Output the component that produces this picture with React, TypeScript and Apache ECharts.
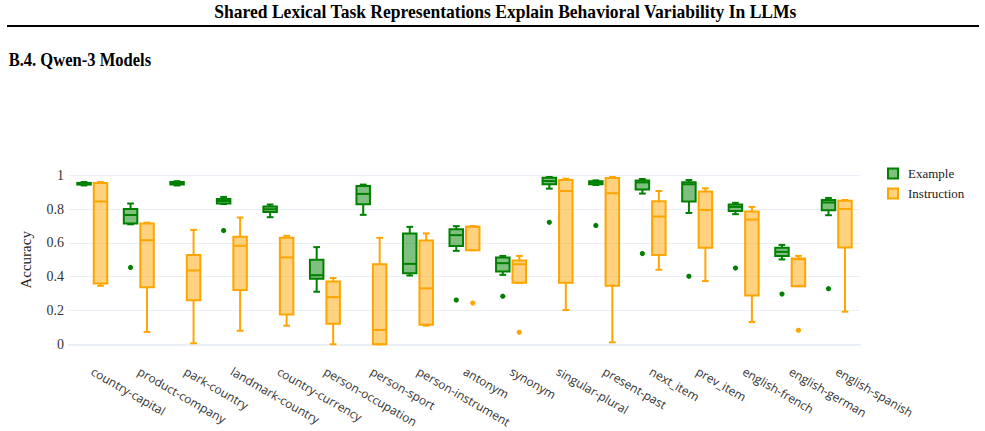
import React, { useEffect, useRef } from "react";
import * as echarts from "echarts";

const categories = [
  "country-capital",
  "product-company",
  "park-country",
  "landmark-country",
  "country-currency",
  "person-occupation",
  "person-sport",
  "person-instrument",
  "antonym",
  "synonym",
  "singular-plural",
  "present-past",
  "next_item",
  "prev_item",
  "english-french",
  "english-german",
  "english-spanish",
];

// [min, q1, median, q3, max]
const exampleStats = [
  [0.94, 0.945, 0.95, 0.955, 0.96],
  [0.71, 0.715, 0.765, 0.8, 0.833],
  [0.94, 0.945, 0.952, 0.96, 0.965],
  [0.83, 0.833, 0.848, 0.86, 0.872],
  [0.752, 0.783, 0.799, 0.815, 0.827],
  [0.311, 0.388, 0.409, 0.5, 0.575],
  [0.766, 0.829, 0.89, 0.937, 0.945],
  [0.407, 0.421, 0.476, 0.656, 0.695],
  [0.553, 0.581, 0.646, 0.681, 0.699],
  [0.411, 0.431, 0.48, 0.514, 0.523],
  [0.921, 0.947, 0.966, 0.985, 0.99],
  [0.943, 0.947, 0.957, 0.965, 0.97],
  [0.892, 0.916, 0.958, 0.969, 0.978],
  [0.777, 0.845, 0.947, 0.959, 0.972],
  [0.77, 0.789, 0.813, 0.827, 0.837],
  [0.502, 0.523, 0.547, 0.571, 0.588],
  [0.764, 0.793, 0.839, 0.854, 0.866],
];

const instructionStats = [
  [0.346, 0.36, 0.845, 0.955, 0.96],
  [0.073, 0.338, 0.616, 0.715, 0.72],
  [0.006, 0.26, 0.437, 0.529, 0.677],
  [0.08, 0.321, 0.583, 0.636, 0.75],
  [0.11, 0.177, 0.514, 0.63, 0.642],
  [0.0, 0.122, 0.279, 0.372, 0.392],
  [0.0, 0.0, 0.085, 0.474, 0.63],
  [0.11, 0.116, 0.331, 0.614, 0.656],
  [0.557, 0.557, 0.695, 0.695, 0.7],
  [0.364, 0.364, 0.474, 0.496, 0.523],
  [0.203, 0.364, 0.907, 0.972, 0.98],
  [0.012, 0.346, 0.894, 0.984, 0.99],
  [0.441, 0.529, 0.756, 0.846, 0.907],
  [0.374, 0.571, 0.795, 0.904, 0.923],
  [0.132, 0.289, 0.738, 0.786, 0.813],
  [0.344, 0.344, 0.503, 0.508, 0.523],
  [0.193, 0.573, 0.801, 0.85, 0.854],
];

// [category index, value]
const exampleOutliers = [
  [1, 0.455],
  [3, 0.673],
  [8, 0.262],
  [9, 0.285],
  [10, 0.722],
  [11, 0.703],
  [12, 0.537],
  [13, 0.402],
  [14, 0.451],
  [15, 0.297],
  [16, 0.329],
];

const instructionOutliers = [
  [8, 0.244],
  [9, 0.071],
  [15, 0.083],
];

const yTicks = [0, 0.2, 0.4, 0.6, 0.8, 1];

const GREEN = "#008000";
const GREEN_FILL = "rgba(0,128,0,0.5)";
const ORANGE = "#FFA500";
const ORANGE_FILL = "rgba(255,165,0,0.5)";

const SERIF = "'Liberation Serif', 'Times New Roman', serif";
const SANS = "'Open Sans', 'Noto Sans', sans-serif";

// Horizontal shift of each group's box, as a share of the category band
const GROUP_SHIFT = 0.177;
const BOX_SHARE = 0.29;

function boxRenderer(side: number, stroke: string, fill: string) {
  return (_params: any, api: any) => {
    const idx = api.value(0);
    const band = api.size([1, 0])[0];
    const cx = api.coord([idx, 0])[0] + side * band * GROUP_SHIFT;
    const w = band * BOX_SHARE;
    const y = (k: number) => api.coord([idx, api.value(k)])[1];
    const yMin = y(1);
    const yQ1 = y(2);
    const yMed = y(3);
    const yQ3 = y(4);
    const yMax = y(5);
    const ls = { stroke, lineWidth: 2, fill: "none" };
    const cap = w / 4;
    return {
      type: "group",
      children: [
        { type: "line", shape: { x1: cx, y1: yQ3, x2: cx, y2: yMax }, style: ls },
        { type: "line", shape: { x1: cx, y1: yQ1, x2: cx, y2: yMin }, style: ls },
        { type: "line", shape: { x1: cx - cap, y1: yMax, x2: cx + cap, y2: yMax }, style: ls },
        { type: "line", shape: { x1: cx - cap, y1: yMin, x2: cx + cap, y2: yMin }, style: ls },
        {
          type: "rect",
          shape: { x: cx - w / 2, y: yQ3, width: w, height: Math.max(yQ1 - yQ3, 0.5) },
          style: { fill, stroke, lineWidth: 2 },
        },
        { type: "line", shape: { x1: cx - w / 2, y1: yMed, x2: cx + w / 2, y2: yMed }, style: ls },
      ],
    };
  };
}

function outlierRenderer(side: number, color: string) {
  return (_params: any, api: any) => {
    const idx = api.value(0);
    const band = api.size([1, 0])[0];
    const p = api.coord([idx, api.value(1)]);
    return {
      type: "circle",
      shape: { cx: p[0] + side * band * GROUP_SHIFT, cy: p[1], r: 2.6 },
      style: { fill: color },
    };
  };
}

export default function App() {
  const ref = useRef<HTMLDivElement>(null);

  useEffect(() => {
    document.body.style.margin = "0";
    if (!ref.current) return;
    const chart = echarts.init(ref.current, undefined, { renderer: "svg" });

    const option: any = {
      animation: false,
      backgroundColor: "#ffffff",
      graphic: [
        {
          type: "text",
          x: 493,
          y: 12,
          scaleX: 0.975,
          originX: 493,
          style: {
            text: "Shared Lexical Task Representations Explain Behavioral Variability In LLMs",
            font: `bold 18px ${SERIF}`,
            fill: "#000",
            align: "center",
            verticalAlign: "middle",
          },
        },
        {
          type: "line",
          shape: { x1: 7, y1: 26, x2: 979, y2: 26 },
          style: { stroke: "#000", lineWidth: 2 },
        },
        {
          type: "text",
          x: 8,
          y: 60,
          scaleX: 0.92,
          originX: 8,
          style: {
            text: "B.4. Qwen-3 Models",
            font: `bold 18px ${SERIF}`,
            fill: "#000",
            align: "left",
            verticalAlign: "middle",
          },
        },
      ],
      legend: {
        orient: "vertical",
        left: 887,
        top: 167,
        padding: 0,
        itemWidth: 10,
        itemHeight: 10,
        itemGap: 7,
        textStyle: { fontFamily: SERIF, fontSize: 13, color: "#222", padding: [0, 0, 0, 5] },
        data: [
          {
            name: "Example",
            icon: "rect",
            itemStyle: { color: GREEN_FILL, borderColor: GREEN, borderWidth: 2 },
          },
          {
            name: "Instruction",
            icon: "rect",
            itemStyle: { color: ORANGE_FILL, borderColor: ORANGE, borderWidth: 2 },
          },
        ],
      },
      grid: { left: 69, width: 791, top: 175.3, height: 169 },
      xAxis: {
        type: "category",
        data: categories,
        boundaryGap: true,
        axisTick: { show: false },
        axisLine: { show: true, lineStyle: { color: "#EBF0F8", width: 2 } },
        axisLabel: {
          rotate: -30,
          margin: 26,
          interval: 0,
          fontFamily: SANS,
          fontSize: 12,
          color: "#333",
        },
      },
      yAxis: {
        type: "value",
        min: 0,
        max: 1,
        interval: 0.2,
        name: "Accuracy",
        nameLocation: "middle",
        nameGap: 36,
        nameTextStyle: { fontFamily: SERIF, fontSize: 15, color: "#222" },
        axisLine: { show: false },
        axisTick: { show: false },
        axisLabel: {
          margin: 5,
          fontFamily: SERIF,
          fontSize: 14,
          color: "#333",
          formatter: (v: number) => {
            const t = yTicks.find((k) => Math.abs(k - v) < 1e-9);
            return t === undefined ? "" : String(t);
          },
        },
        splitLine: { lineStyle: { color: "#EBF0F8", width: 1 } },
      },
      series: [
        {
          name: "Example",
          type: "custom",
          renderItem: boxRenderer(-1, GREEN, GREEN_FILL),
          encode: { x: 0, y: [1, 2, 3, 4, 5] },
          data: exampleStats.map((s, i) => [i, ...s]),
          z: 3,
        },
        {
          name: "Instruction",
          type: "custom",
          renderItem: boxRenderer(1, ORANGE, ORANGE_FILL),
          encode: { x: 0, y: [1, 2, 3, 4, 5] },
          data: instructionStats.map((s, i) => [i, ...s]),
          z: 3,
        },
        {
          name: "Example",
          type: "custom",
          renderItem: outlierRenderer(-1, GREEN),
          encode: { x: 0, y: 1 },
          data: exampleOutliers,
          z: 4,
        },
        {
          name: "Instruction",
          type: "custom",
          renderItem: outlierRenderer(1, ORANGE),
          encode: { x: 0, y: 1 },
          data: instructionOutliers,
          z: 4,
        },
      ],
    };

    chart.setOption(option);
    return () => chart.dispose();
  }, []);

  return <div ref={ref} style={{ width: 985, height: 431 }} />;
}
